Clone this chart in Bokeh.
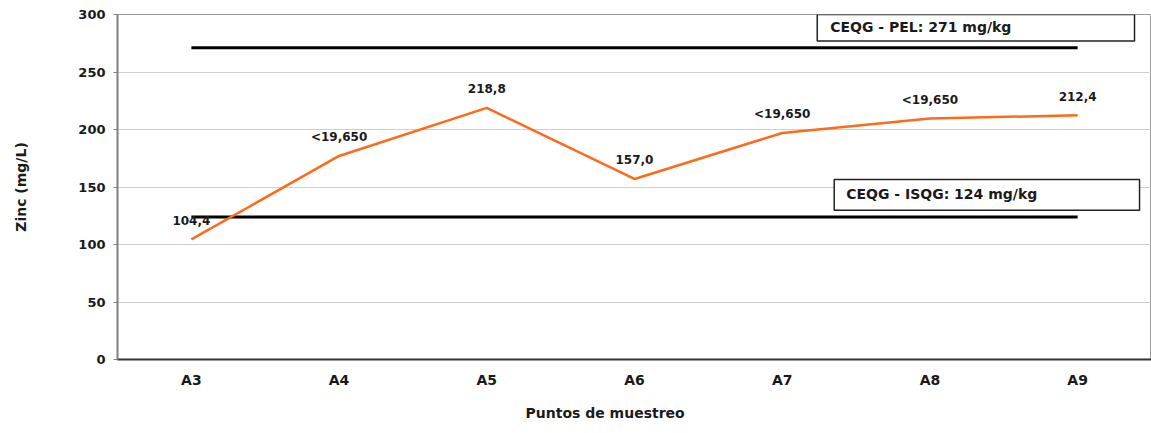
from bokeh.plotting import figure
from bokeh.models import (FactorRange, Range1d, SingleIntervalTicker, ColumnDataSource,
                          LabelSet, Label, BoxAnnotation, Title)
from bokeh.core.properties import value
from bokeh.embed import file_html
from bokeh.resources import INLINE

# ---- data ----
categories = ["A3", "A4", "A5", "A6", "A7", "A8", "A9"]
zinc = [104.4, 177.0, 218.8, 157.0, 197.0, 209.5, 212.4]
point_labels = ["104,4", "<19,650", "218,8", "157,0", "<19,650", "<19,650", "212,4"]
pel_value = 271
isqg_value = 124
pel_text = "CEQG - PEL: 271  mg/kg"
isqg_text = "CEQG - ISQG: 124 mg/kg"
y_title = "Zinc (mg/L)"
x_title = "Puntos de muestreo"

FONT = "DejaVu Sans"

p = figure(width=1151, height=433, output_backend="svg", toolbar_location=None,
           x_range=FactorRange(factors=categories), y_range=Range1d(0, 300),
           min_border_left=117, min_border_right=0, min_border_top=14,
           min_border_bottom=72)

p.background_fill_color = "white"
p.border_fill_color = "white"
p.outline_line_color = "#9a9a9a"
p.outline_line_width = 1

# grid
p.xgrid.grid_line_color = None
p.ygrid.grid_line_color = "#cfcfcf"
p.ygrid.grid_line_width = 1

# axes
p.yaxis.ticker = SingleIntervalTicker(interval=50)
p.yaxis.minor_tick_line_color = None
p.yaxis.major_tick_in = 0
p.yaxis.major_tick_out = 4
p.yaxis.major_tick_line_color = "#808080"
p.yaxis.axis_line_color = "#808080"
p.yaxis.axis_line_width = 2
p.yaxis.major_label_text_font = FONT
p.yaxis.major_label_text_font_style = "bold"
p.yaxis.major_label_text_font_size = "13px"
p.yaxis.major_label_text_color = "#1a1a1a"
p.yaxis.major_label_standoff = 8
p.yaxis.axis_label = y_title
p.yaxis.axis_label_text_font = FONT
p.yaxis.axis_label_text_font_style = "bold"
p.yaxis.axis_label_text_font_size = "14px"
p.yaxis.axis_label_text_color = "#1a1a1a"
p.yaxis.axis_label_standoff = 46

p.xaxis.major_tick_in = 0
p.xaxis.major_tick_out = 0
p.xaxis.axis_line_color = "#333333"
p.xaxis.axis_line_width = 2
p.xaxis.major_label_text_font = FONT
p.xaxis.major_label_text_font_style = "bold"
p.xaxis.major_label_text_font_size = "14px"
p.xaxis.major_label_text_color = "#1a1a1a"
p.xaxis.major_label_standoff = 12

# x-axis title as a Title below the axis, shifted to match the reference
p.add_layout(Title(text=x_title, align="left", offset=408, standoff=25,
                   text_font=FONT, text_font_style="bold", text_font_size="14px",
                   text_color="#1a1a1a"), "below")

# reference lines
ends = [categories[0], categories[-1]]
p.line(ends, [pel_value, pel_value], line_color="black", line_width=3)
p.line(ends, [isqg_value, isqg_value], line_color="black", line_width=3)

# data line
src = ColumnDataSource(dict(x=categories, y=zinc, t=point_labels))
p.line("x", "y", source=src, line_color="#ff6a1a", line_width=2.5)

labels = LabelSet(x="x", y="y", text="t", source=src, y_offset=19,
                  text_align="center", text_baseline="middle",
                  text_font=value(FONT), text_font_style="bold", text_font_size="12px",
                  text_color="#1a1a1a")
p.add_layout(labels)

# annotation boxes (positions in synthetic categorical coordinates)
pel_box = BoxAnnotation(left=4.737, right=6.885, bottom=277, top=300,
                        fill_color="white", fill_alpha=1.0,
                        line_color="#222222", line_alpha=1.0, line_width=1.5)
isqg_box = BoxAnnotation(left=4.852, right=6.919, bottom=129.7, top=156.5,
                         fill_color="white", fill_alpha=1.0,
                         line_color="#222222", line_alpha=1.0, line_width=1.5)
p.add_layout(pel_box)
p.add_layout(isqg_box)
p.add_layout(Label(x=4.825, y=288.8, text=pel_text, text_baseline="middle",
                   text_font=FONT, text_font_style="bold", text_font_size="14px",
                   text_color="#1a1a1a"))
p.add_layout(Label(x=4.933, y=143.5, text=isqg_text, text_baseline="middle",
                   text_font=FONT, text_font_style="bold", text_font_size="14px",
                   text_color="#1a1a1a"))

open("out.html", "w").write(file_html(p, INLINE))
